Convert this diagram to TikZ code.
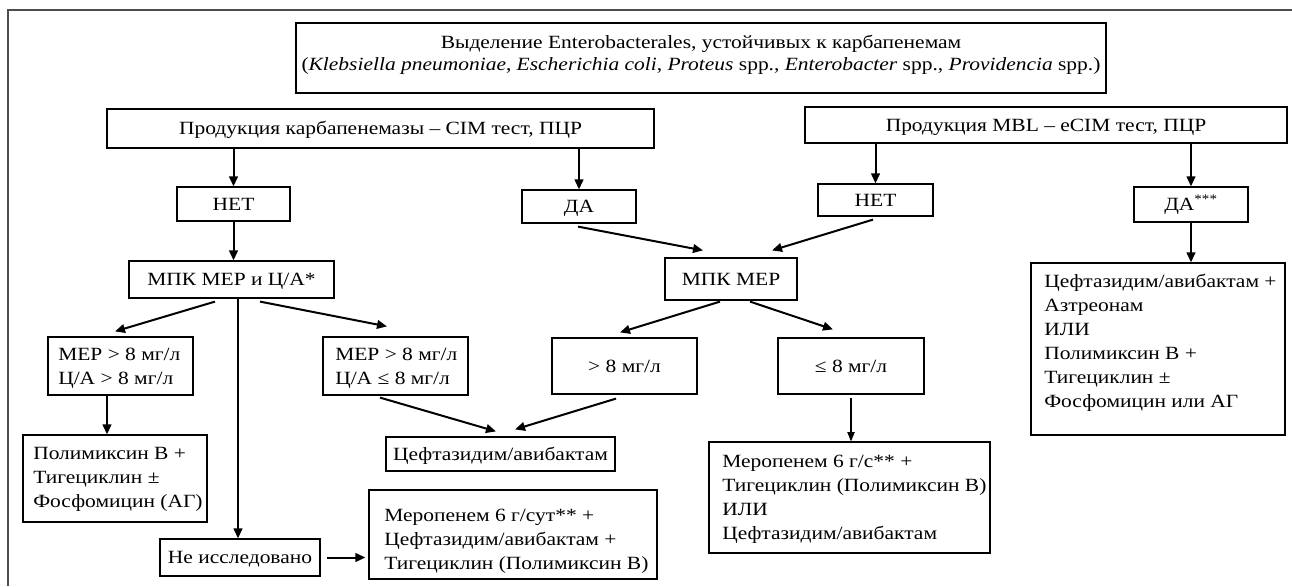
\documentclass[tikz,border=0pt]{standalone}
\usepackage{fontspec}
\setmainfont{Liberation Serif}[FakeStretch=1.15]
\usetikzlibrary{arrows.meta,calc}
\newcommand\bx[6]{\node[box, minimum width={(#4-(#2))*0.75pt}, minimum height={(#5-(#3))*0.75pt}] (#1) at ({(#2+#4)/2},{(#3+#5)/2}) {#6};}
\begin{document}
\begin{tikzpicture}[x=0.75pt,y=-0.75pt,
  every node/.style={font=\fontsize{14pt}{18pt}\selectfont},
  box/.style={draw, line width=0.9pt, inner sep=0pt, text height=12.4pt, text depth=3pt},
  txt/.style={inner sep=0pt, align=left, anchor=north west},
  lbl/.style={inner sep=0pt, anchor=base},
  arr/.style={line width=1.5pt, -{Triangle[length=7.5pt,width=6.5pt]}},
  thinarr/.style={line width=0.8pt, -{Triangle[length=7pt,width=5.5pt]}},
  frame/.style={draw=black!70, line width=1.6pt}]
\useasboundingbox (0,0) rectangle (1292,586);
\draw[frame] (1292,10) -- (8,10) -- (8,586);

% boxes
\bx{top}{296}{23}{1106}{93}{}
\node[lbl] (top1) at (701,48) {Выделение Enterobacterales, устойчивых к карбапенемам};
\node[lbl] (top2) at (701,70) {(\textit{Klebsiella pneumoniae}, \textit{Escherichia coli}, \textit{Proteus} spp., \textit{Enterobacter} spp., \textit{Providencia} spp.)};

\bx{prodC}{107}{109}{654}{148}{Продукция карбапенемазы – CIM тест, ПЦР}
\bx{prodM}{805}{107}{1287}{143}{Продукция MBL – eCIM тест, ПЦР}

\bx{net1}{177}{187}{290}{221}{НЕТ}
\bx{da1}{522}{190}{636}{223}{ДА}
\bx{net2}{818}{184}{933}{216}{НЕТ}
\bx{da3}{1134}{187}{1248}{222}{ДА\textsuperscript{***}}

\bx{mpk1}{129}{261}{334}{298}{МПК МЕР и Ц/А*}
\bx{mpk2}{665}{258}{797}{300}{МПК МЕР}

\bx{b1}{48}{337}{193}{395}{}
\node[txt] (b1t) at (58,343.2) {\strut МЕР > 8 мг/л\\Ц/А > 8 мг/л};
\bx{b2}{323}{337}{468}{395}{}
\node[txt] (b2t) at (335,343.2) {\strut МЕР > 8 мг/л\\Ц/А ≤ 8 мг/л};
\bx{b3}{552}{338}{697}{394}{> 8 мг/л}
\bx{b4}{778}{338}{924}{394}{≤ 8 мг/л}

\bx{big}{1031}{263}{1285}{435}{}
\node[txt] (bigt) at (1044,270.2) {\strut Цефтазидим/авибактам +\\Азтреонам\\ИЛИ\\Полимиксин В +\\Тигециклин ±\\Фосфомицин или АГ};

\bx{poly}{23}{435}{207}{522}{}
\node[txt] (polyt) at (33,442.2) {\strut Полимиксин В +\\Тигециклин ±\\Фосфомицин (АГ)};

\bx{ceft}{386}{437}{615}{471}{Цефтазидим/авибактам}

\bx{mer1}{369}{490}{657}{579}{}
\node[txt] (mer1t) at (384,504.2) {\strut Меропенем 6 г/сут** +\\Цефтазидим/авибактам +\\Тигециклин (Полимиксин В)};

\bx{mer2}{709}{442}{990}{553}{}
\node[txt] (mer2t) at (722,450.2) {\strut Меропенем 6 г/с** +\\Тигециклин (Полимиксин В)\\ИЛИ\\Цефтазидим/авибактам};

\bx{ni}{160}{539}{320}{576}{Не исследовано}

% connectors
\draw[arr] (net1.north |- prodC.south) -- (net1.north);
\draw[arr] (da1.north |- prodC.south) -- (da1.north);
\draw[arr] (net2.north |- prodM.south) -- (net2.north);
\draw[arr] (da3.north |- prodM.south) -- (da3.north);
\draw[arr] (net1.south) -- (net1.south |- mpk1.north);
\draw[arr] ($(da1.south)+(-1,3)$) -- ($(mpk2.north)+(-28,-7)$);
\draw[arr] ($(net2.south)+(-2.5,3)$) -- ($(mpk2.north)+(41,-7)$);
\draw[arr] ($(mpk1.south)+(-16.5,3)$) -- ($(b1.north)+(-5.5,-5)$);
\draw[arr] ($(mpk1.south)+(28.5,3)$) -- ($(b2.north)+(-8.5,-10)$);
\coordinate (vtop) at ($(mpk1.south)+(6.5,0)$);
\draw[arr] (vtop) -- (vtop |- ni.north);
\draw[arr] ($(mpk2.south)+(-11,1)$) -- ($(b3.north)+(-4.5,-5)$);
\draw[arr] ($(mpk2.south)+(19,1)$) -- ($(b4.north)+(-18,-8)$);
\draw[arr] (da3.south) -- (da3.south |- big.north);
\coordinate (b1s) at ($(b1.south)+(-13.5,0)$);
\draw[arr] (b1s) -- (b1s |- poly.north);
\draw[arr] ($(b2.south)+(-15.5,2)$) -- ($(ceft.north)+(-4.5,-5)$);
\draw[arr] ($(b3.south)+(-8.5,4)$) -- ($(ceft.north)+(14.5,-7)$);
\draw[thinarr] ($(b4.south)+(0,3)$) -- (b4.south |- mer2.north);
\draw[arr] ($(ni.east)+(6,0)$) -- ($(mer1.west |- ni.east)+(-3,0)$);
\end{tikzpicture}
\end{document}
